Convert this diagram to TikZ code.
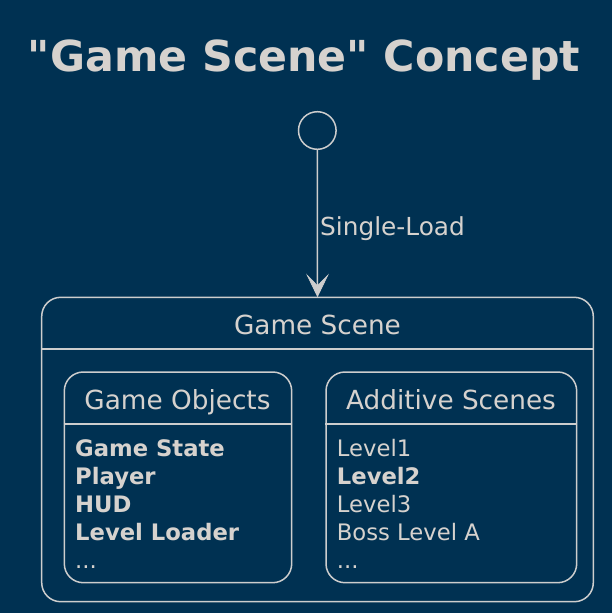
\documentclass[tikz,border=0pt]{standalone}
\usepackage{fontspec}
\setmainfont{DejaVu Sans}
\definecolor{bg}{RGB}{0,49,82}
\definecolor{fg}{RGB}{214,210,206}
\definecolor{ln}{RGB}{205,205,205}
\tikzset{
  txt/.style={inner sep=0pt, text=fg},
  titlefont/.style={font=\fontsize{42.7}{50}\selectfont\bfseries},
  namefont/.style={font=\fontsize{26.3}{30}\selectfont},
  labelfont/.style={font=\fontsize{24.8}{28}\selectfont},
  bodyfont/.style={font=\fontsize{22.7}{28}\selectfont},
  statebox/.style={draw=ln, line width=1.5pt, rounded corners=19pt, inner sep=0pt},
  startnode/.style={circle, draw=ln, line width=1.5pt, minimum size=37.6pt, inner sep=0pt},
  conn/.style={draw=ln, line width=1.5pt},
  arrowhead/.style={fill=ln, draw=ln, line width=0.6pt, line join=miter},
}
\begin{document}
\begin{tikzpicture}[x=1pt, y=-1pt]
  \fill[bg] (0,0) rectangle (612,613);
  \useasboundingbox (0,0) rectangle (612,613);

  \node[txt, titlefont, anchor=base] (title) at (304,71) {\textquotedbl Game Scene\textquotedbl{} Concept};

  \node[startnode] (start) at (317.3,130.5) {};

  % outer state
  \node[statebox, minimum width=551.6pt, minimum height=304.4pt] (outer) at (317.5,449.5) {};
  \draw[ln, line width=1.5pt] ([yshift=-52.2pt]outer.north west) -- ([yshift=-52.2pt]outer.north east);
  \node[txt, namefont, anchor=base] (outername) at (317.5,334) {Game Scene};

  % Game Objects
  \node[statebox, minimum width=227.4pt, minimum height=210.7pt] (gobj) at (178,477.35) {};
  \draw[ln, line width=1.5pt] ([yshift=-52.7pt]gobj.north west) -- ([yshift=-52.7pt]gobj.north east);
  \node[txt, namefont, anchor=base] (gobjname) at (177.5,409) {Game Objects};
  \node[txt, bodyfont, anchor=base west] (g1) at (75,456) {\bfseries Game State};
  \node[txt, bodyfont, anchor=base west] (g2) at (75,484) {\bfseries Player};
  \node[txt, bodyfont, anchor=base west] (g3) at (75,512) {\bfseries HUD};
  \node[txt, bodyfont, anchor=base west] (g4) at (75,540) {\bfseries Level Loader};
  \node[txt, bodyfont, anchor=base west] (g5) at (75,568) {...};

  % Additive Scenes
  \node[statebox, minimum width=250.7pt, minimum height=210.7pt] (addsc) at (451.35,477.35) {};
  \draw[ln, line width=1.5pt] ([yshift=-52.7pt]addsc.north west) -- ([yshift=-52.7pt]addsc.north east);
  \node[txt, namefont, anchor=base] (addscname) at (451,409) {Additive Scenes};
  \node[txt, bodyfont, anchor=base west] (a1) at (336.7,456) {Level1};
  \node[txt, bodyfont, anchor=base west] (a2) at (336.7,484) {\bfseries Level2};
  \node[txt, bodyfont, anchor=base west] (a3) at (336.7,512) {Level3};
  \node[txt, bodyfont, anchor=base west] (a4) at (336.7,540) {Boss Level A};
  \node[txt, bodyfont, anchor=base west] (a5) at (336.7,568) {...};

  % transition
  \draw[conn] (start) -- ([yshift=10pt]outer.north);
  \fill[arrowhead] (outer.north) -- ++(-10.4,-21.5) -- ++(10.4,10.7) -- ++(10.4,-10.7) -- cycle;
  \node[txt, labelfont, anchor=base west] (lbl) at (320,235) {Single-Load};
\end{tikzpicture}
\end{document}
